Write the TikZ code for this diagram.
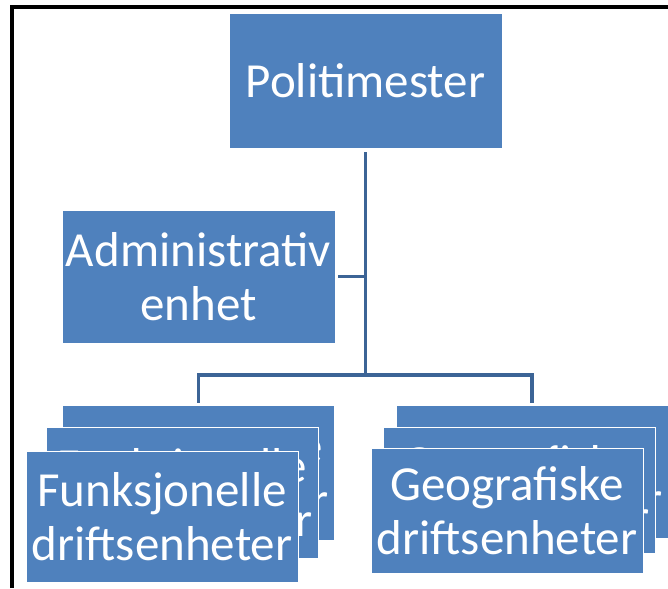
\documentclass[tikz,border=0pt]{standalone}
\usepackage{fontspec}
\setmainfont{Carlito}
\definecolor{unitblue}{RGB}{79,129,189}
\definecolor{linkblue}{RGB}{60,100,150}
\begin{document}
\begin{tikzpicture}[x=1pt,y=1pt,
  unit/.style={rectangle, fill=unitblue, draw=white, line width=0.8pt,
    text=white, align=center, inner sep=0pt,
    minimum width=272pt, minimum height=132pt,
    font=\fontsize{49}{54}\selectfont},
  link/.style={draw=linkblue, line width=3.6pt}]
\useasboundingbox (0,0) rectangle (668,588);

% outer frame (left and top edges)
\draw[line width=4pt, line join=miter] (12,0) -- (12,581) -- (668,581);

% head of the unit
\node[unit, minimum width=273pt, minimum height=135pt] (pol) at (365.5,507.5) {Politimester};

% staff unit
\node[unit, minimum width=273pt, minimum height=133pt] (adm) at (198.5,311.5) {Administrativ\\enhet};

% functional operating units (stack of three)
\node[unit, minimum height=135pt] (fb) at (198.5,115.5) {Funksjonelle\\driftsenheter};
\node[unit, minimum height=131pt] (fm) at (182.5,95.5) {Funksjonelle\\driftsenheter};
\node[unit, minimum height=131pt] (ff) at (162,71.5) {Funksjonelle\\driftsenheter};

% geographic operating units (stack of three)
\node[unit, minimum height=133pt] (gb) at (532,116.5) {Geografiske\\driftsenheter};
\node[unit, minimum height=126pt] (gm) at (519,98) {Geografiske\\driftsenheter};
\node[unit, minimum height=125pt] (gf) at (507,77.5) {Geografiske\\driftsenheter};

% connectors
\coordinate (hub) at (365.5,213);
\draw[link] ([yshift=-4pt]pol.south) -- (hub);
\draw[link] ([xshift=3pt]adm.east) -- (adm.east -| hub);
\draw[link] ([yshift=2pt]fb.north) |- (hub) -| ([yshift=2pt]gb.north);
\end{tikzpicture}
\end{document}
